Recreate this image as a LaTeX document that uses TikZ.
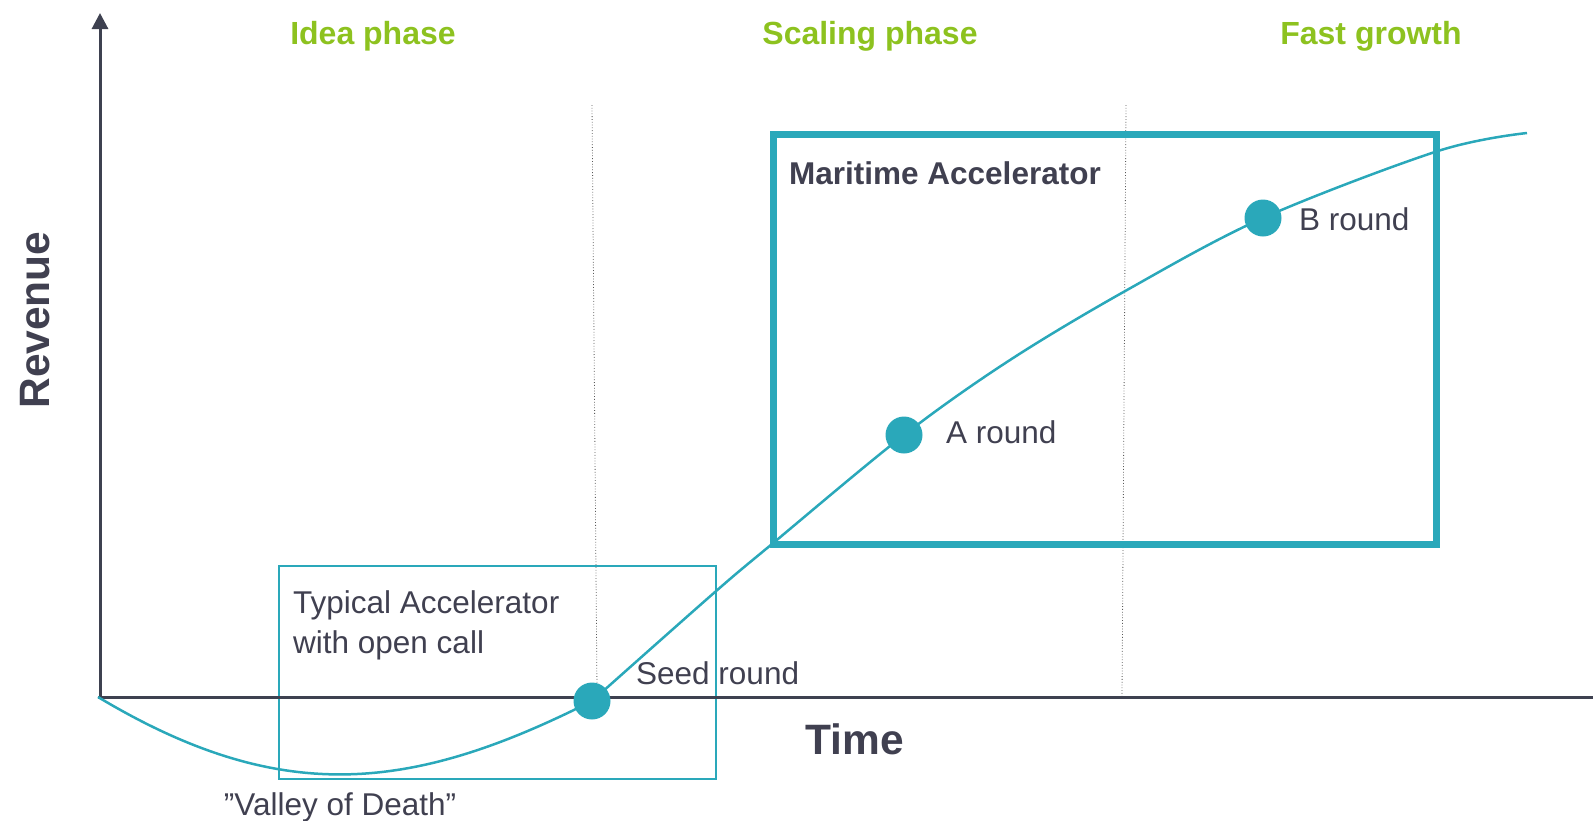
\documentclass[tikz,border=0pt]{standalone}
\usepackage{fontspec}
\setmainfont{Liberation Sans}
\usetikzlibrary{arrows.meta}
\definecolor{teal1}{HTML}{2AA8BA}
\definecolor{green1}{HTML}{8DC21F}
\definecolor{dark1}{HTML}{404050}
\definecolor{axis1}{HTML}{3E4150}
\tikzset{
  axisline/.style={draw=axis1, line width=3pt},
  curveline/.style={draw=teal1, line width=2.5pt},
  phase/.style={text=green1, font=\fontsize{32}{36}\selectfont\bfseries, inner sep=0pt, anchor=base},
  lbl/.style={text=dark1, font=\fontsize{31.5}{40}\selectfont, inner sep=0pt, anchor=base west},
  boldlbl/.style={text=dark1, font=\fontsize{31.5}{36}\selectfont\bfseries, inner sep=0pt, anchor=base west},
  biglbl/.style={text=dark1, font=\fontsize{42.5}{46}\selectfont\bfseries, inner sep=0pt, anchor=base},
  dot/.style={circle, fill=teal1, minimum size=37pt, inner sep=0pt},
  divider/.style={draw=black!65, line width=0.8pt, dotted},
  smallbox/.style={draw=teal1, line width=2pt, anchor=north west, inner sep=0pt, minimum width=437pt, minimum height=213pt},
  bigbox/.style={draw=teal1, line width=7pt, anchor=north west, inner sep=0pt, minimum width=663pt, minimum height=410pt}
}
\begin{document}
\begin{tikzpicture}[x=1pt, y=-1pt]
\useasboundingbox (0,0) rectangle (1593,820);
% dividers
\coordinate (d1top) at (592,105);
\coordinate (d1bot) at (597,690);
\coordinate (d2top) at (1126,105);
\coordinate (d2bot) at (1122,696);
\draw[divider] (d1top) -- (d1bot);
\draw[divider] (d2top) -- (d2bot);
% boxes
\node[smallbox] (small) at (278,565) {};
\node[bigbox] (big) at (770,131) {};
% axes
\coordinate (origin) at (98,697);
\coordinate (ytop) at (100,13);
\coordinate (xend) at (1593,697);
\draw[axisline] (origin) -- (xend);
\draw[axisline, -{Triangle[length=16pt, width=16pt]}] (100,698) -- (ytop);
% curve
\coordinate (seedc) at (592,701);
\coordinate (ac) at (904,435);
\coordinate (bc) at (1263,218);
\draw[curveline] (origin) .. controls (280,806) and (410,793) .. (seedc);
\draw[curveline] plot[smooth, tension=0.55] coordinates {(592,701) (715,592) (772,544) (904,435) (1010,360) (1127,290) (1263,218) (1438,151) (1527,133)};
% dots
\node[dot] (seed) at (seedc) {};
\node[dot] (around) at (ac) {};
\node[dot] (bround) at (bc) {};
% labels
\node[phase] (p1) at (373,44) {Idea phase};
\node[phase] (p2) at (870,44) {Scaling phase};
\node[phase] (p3) at (1371,44) {Fast growth};
\node[boldlbl] (mar) at (789,184) {Maritime Accelerator};
\node[lbl] (bl) at (1299,230) {B round};
\node[lbl] (al) at (946,443) {A round};
\node[lbl] (sl) at (636,684) {Seed round};
\node[lbl, align=left, anchor=north west] (typ) at (293,590) {Typical Accelerator\\with open call};
\node[lbl, anchor=base] (valley) at (340,815) {”Valley of Death”};
\node[biglbl] (time) at (855,754) {Time};
\node[biglbl, rotate=90] (rev) at (49,320) {Revenue};
\end{tikzpicture}
\end{document}
